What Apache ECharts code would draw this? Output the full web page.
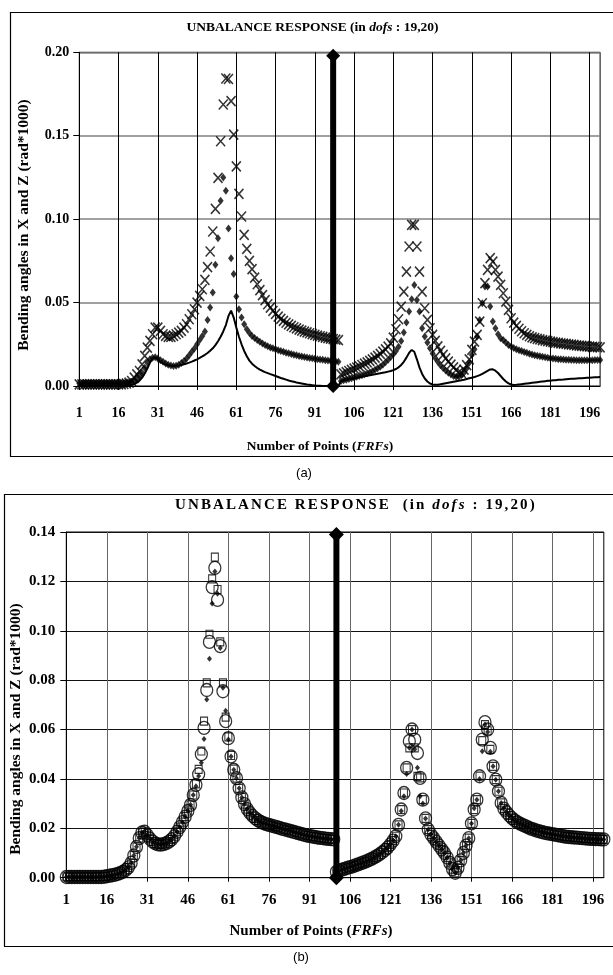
<!DOCTYPE html>
<html><head><meta charset="utf-8">
<script src="https://cdn.jsdelivr.net/npm/echarts@6/dist/echarts.min.js"></script>
<style>html,body{margin:0;padding:0;background:#fff}#c{width:613px;height:975px}</style>
</head><body><div id="c"></div>
<script>
// ---------- categories / tick labels ----------
const categories = [];
for (let i = 1; i <= 200; i++) categories.push(String(i));
const xTickLabels = ['1','16','31','46','61','76','91','106','121','136','151','166','181','196'];
const aYTickLabels = ['0.00','0.05','0.10','0.15','0.20'];
const bYTickLabels = ['0.00','0.02','0.04','0.06','0.08','0.10','0.12','0.14'];

// ---------- chart (a) ----------
const aCross = [
0.001,0.001,0.001,0.001,0.001,0.001,0.001,0.001,0.001,0.001,
0.001,0.001,0.001,0.001,0.001,0.001,0.001,0.0012,0.0015,0.002,
0.003,0.005,0.007,0.009,0.013,0.018,0.023,0.027,0.031,0.035,
0.035,0.033,0.031,0.030,0.0295,0.0295,0.030,0.031,0.032,0.033,
0.035,0.037,0.040,0.043,0.046,0.050,0.054,0.058,0.0636,0.0712,
0.0806,0.0926,0.1062,0.1247,0.1467,0.1687,0.1843,0.1840,0.1707,0.1507,
0.1316,0.1152,0.1016,0.0906,0.0822,0.0750,0.0700,0.0650,0.0610,0.0575,
0.0545,0.0515,0.0490,0.0470,0.0450,0.0432,0.0416,0.0402,0.0390,0.0379,
0.0369,0.0360,0.0352,0.0345,0.0338,0.0332,0.0326,0.0321,0.0316,0.0311,
0.0306,0.0302,0.0298,0.0294,0.0290,0.0287,0.0284,0.0281,0.0278,0.0275,
0.0070,0.0076,0.0083,0.0090,0.0097,0.0104,0.0111,0.0118,0.0126,0.0134,
0.0142,0.0151,0.0160,0.0170,0.0181,0.0193,0.0206,0.0220,0.0236,0.0255,
0.0290,0.0340,0.0400,0.0476,0.0566,0.0686,0.0836,0.0966,0.0966,0.0836,
0.0686,0.0566,0.0466,0.0396,0.0346,0.0306,0.0270,0.0238,0.0210,0.0186,
0.0165,0.0146,0.0128,0.0112,0.0096,0.0082,0.0078,0.0098,0.0125,0.0160,
0.0216,0.0266,0.0306,0.0386,0.0496,0.0616,0.0696,0.0766,0.0746,0.0696,
0.0656,0.0606,0.0556,0.0506,0.0456,0.0406,0.0380,0.0360,0.0343,0.0328,
0.0316,0.0306,0.0298,0.0292,0.0287,0.0283,0.0279,0.0275,0.0272,0.0269,
0.0266,0.0263,0.0260,0.0258,0.0256,0.0254,0.0252,0.0250,0.0248,0.0246,
0.0244,0.0242,0.0240,0.0239,0.0238,0.0236,0.0235,0.0234,0.0233,0.0232
];
const aDiamond = [
0.0015,0.0015,0.0015,0.0015,0.0015,0.0015,0.0015,0.0015,0.0015,0.0015,
0.0015,0.0015,0.0015,0.0015,0.0015,0.0015,0.0015,0.0015,0.0018,0.002,
0.0025,0.003,0.004,0.006,0.008,0.011,0.014,0.016,0.017,0.0172,
0.0165,0.0155,0.0145,0.0135,0.0128,0.0123,0.0120,0.0122,0.0128,0.0138,
0.0150,0.0165,0.0185,0.0205,0.0225,0.0250,0.0276,0.0300,0.0326,0.0396,
0.0470,0.0560,0.0726,0.0886,0.1110,0.1250,0.1170,0.0944,0.0766,0.0672,
0.0536,0.0460,0.0410,0.0370,0.0340,0.0318,0.0300,0.0288,0.0276,0.0265,
0.0255,0.0246,0.0238,0.0231,0.0226,0.0220,0.0215,0.0210,0.0205,0.0200,
0.0196,0.0192,0.0188,0.0184,0.0180,0.0177,0.0174,0.0171,0.0168,0.0166,
0.0163,0.0161,0.0159,0.0157,0.0155,0.0153,0.0151,0.0149,0.0147,0.0146,
0.0030,0.0034,0.0038,0.0042,0.0046,0.0050,0.0055,0.0060,0.0065,0.0070,
0.0076,0.0082,0.0089,0.0097,0.0106,0.0116,0.0128,0.0142,0.0158,0.0174,
0.0190,0.0210,0.0235,0.0270,0.0320,0.0380,0.0446,0.0520,0.0606,0.0516,
0.0446,0.0346,0.0296,0.0260,0.0226,0.0195,0.0168,0.0145,0.0125,0.0108,
0.0093,0.0080,0.0069,0.0060,0.0055,0.0056,0.0065,0.0080,0.0105,0.0140,
0.0186,0.0220,0.0296,0.0396,0.0496,0.0596,0.0596,0.0476,0.0386,0.0346,
0.0310,0.0286,0.0276,0.0260,0.0246,0.0236,0.0228,0.0221,0.0215,0.0210,
0.0204,0.0199,0.0194,0.0189,0.0185,0.0181,0.0178,0.0175,0.0172,0.0170,
0.0167,0.0165,0.0163,0.0161,0.0160,0.0159,0.0158,0.0157,0.0156,0.0156,
0.0155,0.0155,0.0155,0.0155,0.0155,0.0155,0.0155,0.0156,0.0156,0.0156
];
const aLine = [
0,0,0,0,0,0,0,0,0,0,
0,0,0,0,0,0,0,0,0.0002,0.0004,
0.0007,0.0012,0.0020,0.0032,0.0050,0.0075,0.0105,0.0140,0.0165,0.0172,
0.0160,0.0146,0.0136,0.0129,0.0124,0.0121,0.0120,0.0121,0.0123,0.0126,
0.0130,0.0135,0.0140,0.0146,0.0153,0.0160,0.0168,0.0177,0.0187,0.0198,
0.0211,0.0226,0.0245,0.0268,0.0295,0.0327,0.0365,0.0420,0.0452,0.0410,
0.0350,0.0295,0.0250,0.0210,0.0178,0.0152,0.0134,0.0120,0.0108,0.0098,
0.0090,0.0083,0.0077,0.0071,0.0066,0.0060,0.0054,0.0048,0.0043,0.0038,
0.0033,0.0029,0.0025,0.0021,0.0018,0.0015,0.0012,0.0009,0.0007,0.0005,
0.0003,0.0002,0.0001,0,0,0,0,0,0,0,
0.0030,0.0034,0.0037,0.0040,0.0043,0.0046,0.0049,0.0052,0.0055,0.0058,
0.0061,0.0064,0.0067,0.0070,0.0073,0.0076,0.0079,0.0082,0.0086,0.0090,
0.0095,0.0102,0.0112,0.0126,0.0145,0.0170,0.0198,0.0216,0.0205,0.0160,
0.0110,0.0072,0.0045,0.0027,0.0015,0.0009,0.0007,0.0008,0.0010,0.0013,
0.0016,0.0019,0.0022,0.0025,0.0028,0.0031,0.0035,0.0038,0.0042,0.0046,
0.0050,0.0054,0.0059,0.0065,0.0073,0.0082,0.0091,0.0099,0.0100,0.0092,
0.0078,0.0060,0.0042,0.0027,0.0016,0.0009,0.0006,0.0007,0.0009,0.0011,
0.0013,0.0015,0.0017,0.0019,0.0021,0.0023,0.0025,0.0027,0.0029,0.0031,
0.0032,0.0034,0.0035,0.0037,0.0038,0.0039,0.0041,0.0042,0.0043,0.0044,
0.0045,0.0046,0.0047,0.0048,0.0049,0.0050,0.0051,0.0052,0.0053,0.0054
];
const aDivider = [['98', 0], ['98', 0.198]];

// ---------- chart (b) ----------
const bCircle = [
0.0003,0.0003,0.0003,0.0003,0.0003,0.0003,0.0003,0.0003,0.0003,0.0003,
0.0003,0.0003,0.0003,0.0003,0.0004,0.0006,0.0008,0.0010,0.0012,0.0015,
0.0019,0.0024,0.0031,0.0042,0.0060,0.0090,0.0125,0.0160,0.0183,0.0186,
0.0172,0.0157,0.0146,0.0139,0.0135,0.0134,0.0136,0.0140,0.0146,0.0155,
0.0168,0.0186,0.0205,0.0225,0.0247,0.0270,0.0295,0.0335,0.0376,0.0419,
0.0500,0.0607,0.0760,0.0955,0.1177,0.1255,0.1125,0.0938,0.0755,0.0634,
0.0565,0.0491,0.0437,0.0403,0.0362,0.0325,0.0298,0.0278,0.0262,0.0250,
0.0240,0.0232,0.0226,0.0221,0.0217,0.0214,0.0211,0.0208,0.0205,0.0202,
0.0198,0.0195,0.0192,0.0189,0.0186,0.0183,0.0180,0.0177,0.0174,0.0171,
0.0169,0.0167,0.0165,0.0163,0.0161,0.0160,0.0158,0.0157,0.0156,0.0155,
0.0024,0.0028,0.0032,0.0036,0.0040,0.0043,0.0046,0.0050,0.0054,0.0058,
0.0062,0.0066,0.0071,0.0076,0.0082,0.0088,0.0095,0.0103,0.0112,0.0122,
0.0135,0.0150,0.0168,0.0214,0.0276,0.0343,0.0445,0.0553,0.0600,0.0559,
0.0505,0.0404,0.0316,0.0240,0.0195,0.0175,0.0160,0.0145,0.0130,0.0115,
0.0100,0.0082,0.0060,0.0035,0.0020,0.0040,0.0070,0.0100,0.0130,0.0160,
0.0220,0.0276,0.0316,0.0411,0.0559,0.0630,0.0600,0.0526,0.0451,0.0397,
0.0350,0.0303,0.0280,0.0265,0.0252,0.0241,0.0232,0.0225,0.0219,0.0214,
0.0209,0.0204,0.0199,0.0195,0.0191,0.0188,0.0185,0.0182,0.0180,0.0178,
0.0176,0.0174,0.0172,0.0170,0.0168,0.0166,0.0165,0.0164,0.0163,0.0162,
0.0161,0.0160,0.0159,0.0158,0.0157,0.0157,0.0156,0.0156,0.0155,0.0155
];
const bSquare = [
0.0003,0.0003,0.0003,0.0003,0.0003,0.0003,0.0003,0.0003,0.0003,0.0003,
0.0003,0.0003,0.0003,0.0003,0.0004,0.0006,0.0008,0.0010,0.0012,0.0015,
0.0019,0.0024,0.0031,0.0042,0.0060,0.0090,0.0125,0.0160,0.0183,0.0186,
0.0172,0.0157,0.0146,0.0139,0.0135,0.0134,0.0136,0.0140,0.0146,0.0155,
0.0168,0.0186,0.0205,0.0225,0.0247,0.0270,0.0295,0.0335,0.0380,0.0439,
0.0513,0.0634,0.0789,0.0986,0.1210,0.1298,0.1167,0.0955,0.0789,0.0650,
0.0570,0.0495,0.0440,0.0403,0.0362,0.0325,0.0298,0.0278,0.0262,0.0250,
0.0240,0.0232,0.0226,0.0221,0.0217,0.0214,0.0211,0.0208,0.0205,0.0202,
0.0198,0.0195,0.0192,0.0189,0.0186,0.0183,0.0180,0.0177,0.0174,0.0171,
0.0169,0.0167,0.0165,0.0163,0.0161,0.0160,0.0158,0.0157,0.0156,0.0155,
0.0024,0.0028,0.0032,0.0036,0.0040,0.0043,0.0046,0.0050,0.0054,0.0058,
0.0062,0.0066,0.0071,0.0076,0.0082,0.0088,0.0095,0.0103,0.0112,0.0122,
0.0135,0.0150,0.0168,0.0214,0.0276,0.0343,0.0445,0.0526,0.0600,0.0526,
0.0410,0.0404,0.0316,0.0240,0.0195,0.0175,0.0160,0.0145,0.0130,0.0115,
0.0100,0.0082,0.0060,0.0035,0.0020,0.0040,0.0070,0.0100,0.0130,0.0160,
0.0220,0.0276,0.0316,0.0411,0.0555,0.0620,0.0595,0.0520,0.0451,0.0397,
0.0350,0.0303,0.0280,0.0265,0.0252,0.0241,0.0232,0.0225,0.0219,0.0214,
0.0209,0.0204,0.0199,0.0195,0.0191,0.0188,0.0185,0.0182,0.0180,0.0178,
0.0176,0.0174,0.0172,0.0170,0.0168,0.0166,0.0165,0.0164,0.0163,0.0162,
0.0161,0.0160,0.0159,0.0158,0.0157,0.0157,0.0156,0.0156,0.0155,0.0155
];
const bDiamond = [
0.0003,0.0003,0.0003,0.0003,0.0003,0.0003,0.0003,0.0003,0.0003,0.0003,
0.0003,0.0003,0.0003,0.0003,0.0004,0.0006,0.0008,0.0010,0.0012,0.0015,
0.0019,0.0024,0.0031,0.0042,0.0060,0.0090,0.0125,0.0160,0.0183,0.0186,
0.0172,0.0157,0.0146,0.0139,0.0135,0.0134,0.0136,0.0140,0.0146,0.0155,
0.0168,0.0186,0.0205,0.0225,0.0247,0.0270,0.0295,0.0335,0.0370,0.0412,
0.0466,0.0562,0.0722,0.0887,0.1110,0.1240,0.1150,0.0930,0.0769,0.0676,
0.0560,0.0491,0.0437,0.0403,0.0362,0.0325,0.0298,0.0278,0.0262,0.0250,
0.0240,0.0232,0.0226,0.0221,0.0217,0.0214,0.0211,0.0208,0.0205,0.0202,
0.0198,0.0195,0.0192,0.0189,0.0186,0.0183,0.0180,0.0177,0.0174,0.0171,
0.0169,0.0167,0.0165,0.0163,0.0161,0.0160,0.0158,0.0157,0.0156,0.0155,
0.0024,0.0028,0.0032,0.0036,0.0040,0.0043,0.0046,0.0050,0.0054,0.0058,
0.0062,0.0066,0.0071,0.0076,0.0082,0.0088,0.0095,0.0103,0.0112,0.0122,
0.0135,0.0150,0.0168,0.0214,0.0270,0.0330,0.0420,0.0526,0.0600,0.0520,
0.0445,0.0330,0.0300,0.0240,0.0195,0.0175,0.0160,0.0145,0.0130,0.0115,
0.0100,0.0082,0.0060,0.0035,0.0020,0.0040,0.0070,0.0100,0.0130,0.0160,
0.0220,0.0281,0.0316,0.0400,0.0512,0.0620,0.0590,0.0510,0.0451,0.0397,
0.0350,0.0303,0.0280,0.0265,0.0252,0.0241,0.0232,0.0225,0.0219,0.0214,
0.0209,0.0204,0.0199,0.0195,0.0191,0.0188,0.0185,0.0182,0.0180,0.0178,
0.0176,0.0174,0.0172,0.0170,0.0168,0.0166,0.0165,0.0164,0.0163,0.0162,
0.0161,0.0160,0.0159,0.0158,0.0157,0.0157,0.0156,0.0156,0.0155,0.0155
];
const bDivider = [['101', 0], ['101', 0.139]];

// ---------- letter-spaced title for (b) ----------
const SERIF = '"Liberation Serif", "Times New Roman", serif';
const SPACED_SIZE = 15.02;          // sentinel font size for letter-spaced text
const bTitleParts = ['UNBALANCE RESPONSE  (in ', 'dofs', ' : 19,20)'];
const bTitleLeft = 175, bTitleRight = 537;
const mctx = document.createElement('canvas').getContext('2d');
const fontB = 'bold ' + SPACED_SIZE + 'px ' + SERIF;
const fontBI = 'italic bold ' + SPACED_SIZE + 'px ' + SERIF;
const partFonts = [fontB, fontBI, fontB];
let W0 = 0, N = 0;
bTitleParts.forEach((p, i) => { mctx.font = partFonts[i]; W0 += mctx.measureText(p).width; N += p.length; });
const hasLS = ('letterSpacing' in mctx);
const spacing = hasLS ? Math.round(Math.max(0, (bTitleRight - bTitleLeft - W0) / N) * 10) / 10 : 0;
const partX = [];
{
  let x = bTitleLeft;
  bTitleParts.forEach((p, i) => {
    partX.push(x);
    mctx.save();
    mctx.font = partFonts[i];
    if (hasLS) mctx.letterSpacing = spacing + 'px';
    x += mctx.measureText(p).width;
    mctx.restore();
  });
}
if (hasLS) {
  const origFill = CanvasRenderingContext2D.prototype.fillText;
  CanvasRenderingContext2D.prototype.fillText = function (t, x, y, mw) {
    const f = this.font || '';
    if (f.indexOf(SPACED_SIZE + 'px') >= 0) {
      this.save();
      this.letterSpacing = spacing + 'px';
      this.font = f;
      const r = mw === undefined ? origFill.call(this, t, x, y) : origFill.call(this, t, x, y, mw);
      this.restore();
      return r;
    }
    if (this.letterSpacing && this.letterSpacing !== '0px') {
      this.letterSpacing = '0px';
      this.font = f;
    }
    return mw === undefined ? origFill.call(this, t, x, y) : origFill.call(this, t, x, y, mw);
  };
}

// ---------- build ----------
const isTick = (idx) => xTickLabels.indexOf(categories[idx]) >= 0;

function xAxisFor(gi, fs, margin, splitColor) {
  return {
    type: 'category', gridIndex: gi, data: categories, boundaryGap: false,
    axisLine: { show: true, onZero: false, lineStyle: { color: '#000', width: 1 } },
    axisTick: { show: true, interval: isTick, length: 4, lineStyle: { color: '#000' } },
    axisLabel: { interval: isTick, color: '#000', fontFamily: SERIF, fontWeight: 'bold', fontSize: fs, margin: margin, hideOverlap: false },
    splitLine: { show: true, interval: isTick, lineStyle: { color: splitColor, width: 1 } }
  };
}
function yAxisFor(gi, max, step, labels, fs, margin, splitColor, splitWidth) {
  return {
    type: 'value', gridIndex: gi, min: 0, max: max, interval: step,
    axisLine: { show: true, lineStyle: { color: '#000', width: 1 } },
    axisTick: { show: true, length: 6, lineStyle: { color: '#000' } },
    axisLabel: { color: '#000', fontFamily: SERIF, fontWeight: 'bold', fontSize: fs, margin: margin,
      formatter: (v) => labels[Math.round(v / step)] },
    splitLine: { show: true, lineStyle: { color: splitColor, width: splitWidth } }
  };
}

const crossPath = 'path://M0,0L10,10M10,0L0,10';

const titleGraphics = bTitleParts.map((p, i) => ({
  type: 'text', x: partX[i], y: 505.5, silent: true,
  style: { text: p, textAlign: 'left', textVerticalAlign: 'middle', font: partFonts[i], fill: '#000' }
}));

const option = {
  animation: false,
  backgroundColor: '#fff',
  grid: [
    { left: 79.3, top: 52.3, width: 520.8, height: 333.7, show: true, borderColor: '#000', borderWidth: 1, backgroundColor: 'transparent', outerBoundsMode: 'none', containLabel: false },
    { left: 66.3, top: 532, width: 537.5, height: 345.7, show: true, borderColor: '#000', borderWidth: 1, backgroundColor: 'transparent', outerBoundsMode: 'none', containLabel: false }
  ],
  xAxis: [ xAxisFor(0, 14, 20, '#000'), xAxisFor(1, 15, 15, '#666') ],
  yAxis: [ yAxisFor(0, 0.2, 0.05, aYTickLabels, 14, 10, '#808080', 1.5), yAxisFor(1, 0.14, 0.02, bYTickLabels, 15, 11, '#111', 1) ],
  series: [
    { type: 'line', xAxisIndex: 0, yAxisIndex: 0, data: aLine, showSymbol: false, symbol: 'none',
      lineStyle: { color: '#000', width: 2 }, z: 2 },
    { type: 'scatter', xAxisIndex: 0, yAxisIndex: 0, data: aDiamond, symbol: 'diamond', symbolSize: [6, 8],
      itemStyle: { color: '#000' }, z: 3 },
    { type: 'scatter', xAxisIndex: 0, yAxisIndex: 0, data: aCross, symbol: crossPath, symbolSize: [9, 10],
      itemStyle: { color: 'none', borderColor: '#000', borderWidth: 1.6 }, z: 4 },
    { type: 'line', xAxisIndex: 0, yAxisIndex: 0, data: aDivider, symbol: 'diamond', symbolSize: [14, 14],
      showSymbol: true, showAllSymbol: true, clip: false,
      lineStyle: { color: '#000', width: 6 }, itemStyle: { color: '#000' }, z: 10 },

    { type: 'scatter', xAxisIndex: 1, yAxisIndex: 1, data: bCircle, symbol: 'circle', symbolSize: [12, 13],
      itemStyle: { color: 'rgba(0,0,0,0)', borderColor: '#000', borderWidth: 1.3 }, z: 2 },
    { type: 'scatter', xAxisIndex: 1, yAxisIndex: 1, data: bSquare, symbol: 'rect', symbolSize: [7, 8],
      itemStyle: { color: 'rgba(0,0,0,0)', borderColor: '#000', borderWidth: 1.1 }, z: 3 },
    { type: 'scatter', xAxisIndex: 1, yAxisIndex: 1, data: bDiamond, symbol: 'diamond', symbolSize: [5, 6],
      itemStyle: { color: '#000' }, z: 4 },
    { type: 'line', xAxisIndex: 1, yAxisIndex: 1, data: bDivider, symbol: 'diamond', symbolSize: [15, 15],
      showSymbol: true, showAllSymbol: true, clip: false,
      lineStyle: { color: '#000', width: 6 }, itemStyle: { color: '#000' }, z: 10 }
  ],
  graphic: [
    { type: 'rect', silent: true, shape: { x: 10.5, y: 12.5, width: 620, height: 444 },
      style: { fill: 'none', stroke: '#000', lineWidth: 1.2 } },
    { type: 'rect', silent: true, shape: { x: 4.5, y: 494.5, width: 620, height: 452 },
      style: { fill: 'none', stroke: '#000', lineWidth: 1.2 } },
    { type: 'text', x: 312.5, y: 27.5, silent: true, style: {
      text: '{b|UNBALANCE RESPONSE (in }{i|dofs}{b| : 19,20)}', textAlign: 'center', textVerticalAlign: 'middle',
      rich: { b: { fontFamily: SERIF, fontWeight: 'bold', fontSize: 13.5, fill: '#000' },
              i: { fontFamily: SERIF, fontWeight: 'bold', fontStyle: 'italic', fontSize: 13.5, fill: '#000' } } } },
    ...titleGraphics,
    { type: 'text', x: 320, y: 446.5, silent: true, style: {
      text: '{b|Number of Points (}{i|FRFs}{b|)}', textAlign: 'center', textVerticalAlign: 'middle',
      rich: { b: { fontFamily: SERIF, fontWeight: 'bold', fontSize: 13.5, fill: '#000' },
              i: { fontFamily: SERIF, fontWeight: 'bold', fontStyle: 'italic', fontSize: 13.5, fill: '#000' } } } },
    { type: 'text', x: 311, y: 931.5, silent: true, style: {
      text: '{b|Number of Points (}{i|FRFs}{b|)}', textAlign: 'center', textVerticalAlign: 'middle',
      rich: { b: { fontFamily: SERIF, fontWeight: 'bold', fontSize: 15, fill: '#000' },
              i: { fontFamily: SERIF, fontWeight: 'bold', fontStyle: 'italic', fontSize: 15, fill: '#000' } } } },
    { type: 'text', x: 23.5, y: 225, rotation: Math.PI / 2, silent: true, style: {
      text: 'Bending angles in X and Z (rad*1000)', textAlign: 'center', textVerticalAlign: 'middle',
      font: 'bold 15.5px ' + SERIF, fill: '#000' } },
    { type: 'text', x: 15.7, y: 729, rotation: Math.PI / 2, silent: true, style: {
      text: 'Bending angles in X and Z (rad*1000)', textAlign: 'center', textVerticalAlign: 'middle',
      font: 'bold 15.5px ' + SERIF, fill: '#000' } },
    { type: 'text', x: 304, y: 473.5, silent: true, style: {
      text: '(a)', textAlign: 'center', textVerticalAlign: 'middle', font: '13px "Liberation Sans", Arial, sans-serif', fill: '#000' } },
    { type: 'text', x: 301, y: 957.5, silent: true, style: {
      text: '(b)', textAlign: 'center', textVerticalAlign: 'middle', font: '13px "Liberation Sans", Arial, sans-serif', fill: '#000' } }
  ]
};

const chart = echarts.init(document.getElementById('c'), null, { renderer: 'canvas', width: 613, height: 975 });
chart.setOption(option);
</script>
</body></html>
